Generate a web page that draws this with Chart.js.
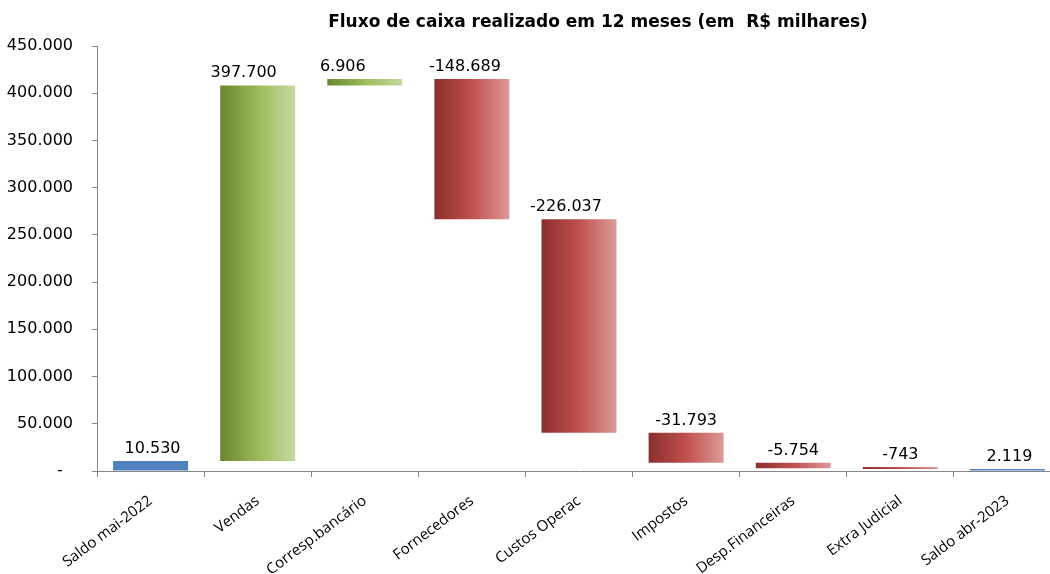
<!DOCTYPE html>
<html>
<head>
<meta charset="utf-8">
<script src="https://cdn.jsdelivr.net/npm/chart.js@4"></script>
<style>
  html, body { margin: 0; padding: 0; background: #fff; overflow: hidden; }
  #wrap { width: 1062px; height: 574px; }
</style>
</head>
<body>
<div id="wrap"><canvas id="c" width="1062" height="574"></canvas></div>
<script>
// ---- data ----
const categories = ['Saldo mai-2022', 'Vendas', 'Corresp.bancário', 'Fornecedores', 'Custos Operac',
                    'Impostos', 'Desp.Financeiras', 'Extra Judicial', 'Saldo abr-2023'];
const values = [10530, 397700, 6906, -148689, -226037, -31793, -5754, -743, 2119];
const kinds = ['total', 'up', 'up', 'down', 'down', 'down', 'down', 'down', 'total'];
const yTicks = [0, 50000, 100000, 150000, 200000, 250000, 300000, 350000, 400000, 450000];
const titleText = 'Fluxo de caixa realizado em 12 meses (em  R$ milhares)';

// ---- waterfall ranges from the data ----
const ranges = [];
let running = 0;
values.forEach((v, i) => {
  if (kinds[i] === 'total') { ranges.push([0, v]); running = v; }
  else { ranges.push([running, running + v]); running += v; }
});

function fmt(v) {
  const neg = v < 0;
  const s = String(Math.abs(Math.round(v))).replace(/\B(?=(\d{3})+(?!\d))/g, '.');
  return (neg ? '-' : '') + s;
}

// label horizontal tweaks (style, as placed in the original)
const labelShiftX = [2, -14, -22, -7, -13, 0, 0, 0, 2];
const BAR_PCT = 0.7;

function barFill(ctx) {
  const chart = ctx.chart;
  const i = ctx.dataIndex;
  const kind = kinds[i];
  if (kind === 'total') return '#4f81bd';
  const xs = chart.scales.x;
  if (!xs || !chart.chartArea) return kind === 'up' ? '#9bbb59' : '#c0504d';
  const cx = xs.getPixelForValue(i);
  const w = (xs.width / categories.length) * BAR_PCT;
  const g = chart.ctx.createLinearGradient(cx - w / 2, 0, cx + w / 2, 0);
  if (kind === 'up') {
    g.addColorStop(0, '#68862f');
    g.addColorStop(0.5, '#9bbb59');
    g.addColorStop(1, '#c6d9a0');
  } else {
    g.addColorStop(0, '#8a2f2e');
    g.addColorStop(0.5, '#c0504d');
    g.addColorStop(1, '#dc9a98');
  }
  return g;
}

const titlePlugin = {
  id: 'customTitle',
  afterDraw(chart) {
    const c = chart.ctx;
    c.save();
    c.font = 'bold 17px "DejaVu Sans"';
    c.fillStyle = '#000';
    c.textAlign = 'center';
    c.textBaseline = 'middle';
    c.fillText(titleText, 598, 23);
    c.restore();
  }
};

const labelPlugin = {
  id: 'barLabels',
  afterDatasetsDraw(chart) {
    const meta = chart.getDatasetMeta(0);
    const c = chart.ctx;
    c.save();
    c.font = '16px "DejaVu Sans"';
    c.fillStyle = '#000';
    c.textAlign = 'center';
    c.textBaseline = 'alphabetic';
    meta.data.forEach((el, i) => {
      const top = Math.min(el.y, el.base);
      c.fillText(fmt(values[i]), el.x + labelShiftX[i], top - 8);
    });
    c.restore();
  }
};

Chart.defaults.font.family = '"DejaVu Sans"';
Chart.defaults.color = '#000';

new Chart(document.getElementById('c'), {
  type: 'bar',
  data: {
    labels: categories,
    datasets: [{
      data: ranges,
      backgroundColor: barFill,
      borderWidth: 0,
      minBarLength: 2,
      barPercentage: BAR_PCT,
      categoryPercentage: 1
    }]
  },
  options: {
    responsive: false,
    animation: false,
    layout: { padding: { top: 46, right: 1, left: 0, bottom: 0 } },
    plugins: { legend: { display: false }, title: { display: false }, tooltip: { enabled: false } },
    scales: {
      x: {
        grid: { display: true, offset: true, drawOnChartArea: false, drawTicks: true, tickLength: 6, color: '#868686' },
        border: { display: true, color: '#868686', width: 1 },
        ticks: { font: { size: 15, family: '"Open Sans"' }, color: '#000', maxRotation: 37, minRotation: 37, padding: 15, labelOffset: 0, autoSkip: false },
        afterFit(s) { s.height = 103; }
      },
      y: {
        min: 0,
        max: 450000,
        afterBuildTicks(s) { s.ticks = yTicks.map(v => ({ value: v })); },
        grid: { display: true, drawOnChartArea: false, drawTicks: true, tickLength: 5, color: '#868686' },
        border: { display: true, color: '#868686', width: 1 },
        ticks: {
          font: { size: 16 },
          color: '#000',
          padding: 19,
          callback: v => (v === 0 ? '-  ' : fmt(v))
        },
        afterFit(s) { s.width = 97; }
      }
    }
  },
  plugins: [titlePlugin, labelPlugin]
});
</script>
</body>
</html>
